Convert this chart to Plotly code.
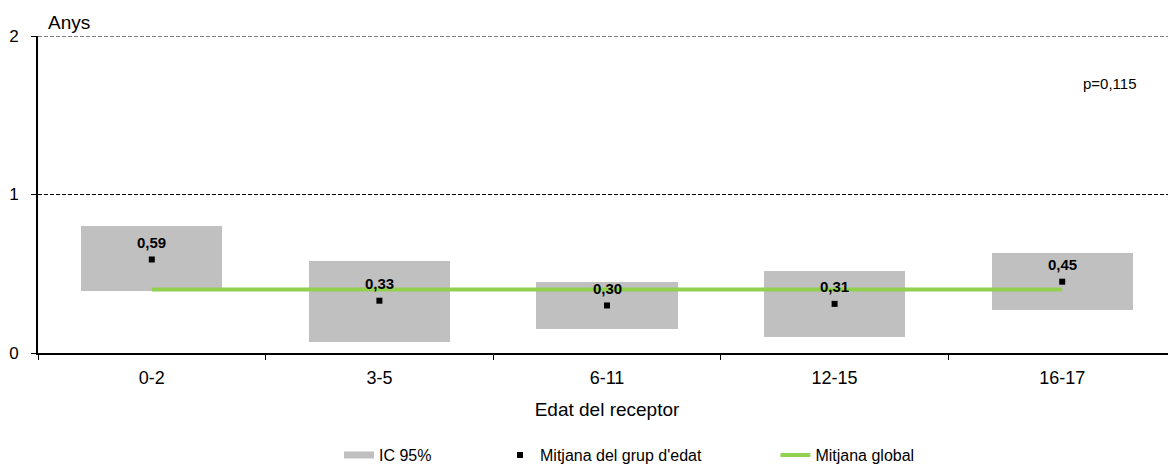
import plotly.graph_objects as go

# data
groups = ["0-2", "3-5", "6-11", "12-15", "16-17"]
mean_group = [0.59, 0.33, 0.30, 0.31, 0.45]
ci_low = [0.39, 0.07, 0.15, 0.10, 0.27]
ci_high = [0.80, 0.58, 0.45, 0.52, 0.63]
mean_global = 0.40
p_text = "p=0,115"

font = "Arial, Liberation Sans, sans-serif"
grey = "#c0c0c0"
green = "#92d050"

fig = go.Figure()

# CI boxes as floating bars
fig.add_trace(
    go.Bar(
        x=groups,
        y=[h - l for h, l in zip(ci_high, ci_low)],
        base=ci_low,
        width=0.62,
        marker=dict(color=grey, line=dict(width=0)),
        name="IC 95%",
        showlegend=False,
    )
)
# legend swatch for the CI (wide flat bar like the original)
fig.add_trace(
    go.Scatter(
        x=[None], y=[None], mode="lines",
        line=dict(color=grey, width=7),
        name="IC 95%", legend="legend",
    )
)
# global mean line
fig.add_trace(
    go.Scatter(
        x=[groups[0], groups[-1]],
        y=[mean_global, mean_global],
        mode="lines",
        line=dict(color=green, width=4),
        name="Mitjana global",
        legend="legend3",
    )
)
# group means
fig.add_trace(
    go.Scatter(
        x=groups,
        y=mean_group,
        mode="markers",
        marker=dict(symbol="square", size=6, color="black"),
        name="Mitjana del grup d'edat",
        legend="legend2",
    )
)

# value labels
for g, v in zip(groups, mean_group):
    fig.add_annotation(
        x=g,
        y=v,
        text="<b>" + ("%.2f" % v).replace(".", ",") + "</b>",
        showarrow=False,
        yshift=17,
        font=dict(size=15, color="black", family=font),
    )

fig.add_annotation(
    xref="paper", yref="paper", x=0, y=1, xanchor="left", yanchor="middle",
    xshift=8, yshift=14, text="Anys", showarrow=False,
    font=dict(size=19, color="black", family=font),
)
fig.add_annotation(
    xref="paper", yref="paper", x=0.942, y=0.883, xanchor="center",
    text=p_text, showarrow=False,
    font=dict(size=15, color="black", family=font),
)

# dashed line at the top of the axis
fig.add_shape(
    type="line", xref="paper", yref="y", x0=0, x1=1, y0=2, y1=2,
    line=dict(color="black", width=1, dash="4px,2px"),
)

legend_common = dict(
    orientation="h", yanchor="middle", xanchor="left", y=-0.322,
    font=dict(size=16, color="black", family=font), bgcolor="rgba(0,0,0,0)",
)
# the page adds an 8px body margin, so margins are shifted to compensate
fig.update_layout(
    width=1176,
    height=464,
    margin=dict(l=30, r=8, t=28, b=119, autoexpand=False),
    plot_bgcolor="white",
    paper_bgcolor="white",
    font=dict(family=font, color="black"),
    showlegend=True,
    legend=dict(x=0.2645, **legend_common),
    legend2=dict(x=0.406, **legend_common),
    legend3=dict(x=0.648, **legend_common),
    bargap=0,
)
fig.update_xaxes(
    type="category",
    tickson="boundaries",
    ticks="outside",
    ticklen=5,
    tickcolor="black",
    showline=True,
    linecolor="black",
    linewidth=2,
    showgrid=False,
    automargin=False,
    ticklabelstandoff=7,
    tickfont=dict(size=18, family=font),
    title=dict(text="Edat del receptor", font=dict(size=19, family=font), standoff=16),
)
fig.update_yaxes(
    range=[0, 2],
    tickvals=[0, 1, 2],
    ticks="outside",
    ticklen=5,
    tickcolor="black",
    showline=True,
    linecolor="black",
    linewidth=2,
    showgrid=True,
    gridcolor="black",
    griddash="4px,2px",
    gridwidth=1,
    zeroline=False,
    automargin=False,
    ticklabelstandoff=9,
    tickfont=dict(size=17, family=font),
)

fig.write_html("out.html")
